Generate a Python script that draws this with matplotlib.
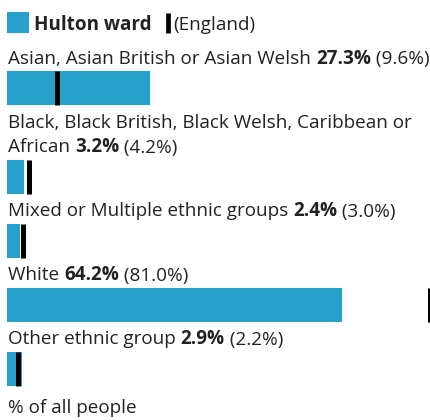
import matplotlib
matplotlib.use("Agg")
import matplotlib.pyplot as plt

plt.rcParams['font.family'] = ['Open Sans', 'DejaVu Sans']

# data
categories = [
    "Asian, Asian British or Asian Welsh",
    "Black, Black British, Black Welsh, Caribbean or\nAfrican",
    "Mixed or Multiple ethnic groups",
    "White",
    "Other ethnic group",
]
ward_values = [27.3, 3.2, 2.4, 64.2, 2.9]
england_values = [9.6, 4.2, 3.0, 81.0, 2.2]
area_name = "Hulton ward"
compare_name = "(England)"
title = "Ethnic group"
footer = "% of all people"

BLUE = "#27a0cc"
TEXT = "#222222"
FS = 13.6

W, H = 430, 420
fig = plt.figure(figsize=(W / 100, H / 100), dpi=100)
fig.patch.set_facecolor("white")

# axes spans from x=7px to the right edge; y in pixels (top = 0)
px_per_pct = 5.22
ax = fig.add_axes([7 / W, 0, (W - 7) / W, 1])
ax.set_xlim(0, (W - 7) / px_per_pct)
ax.set_ylim(H, 0)
ax.axis("off")

renderer = fig.canvas.get_renderer()


def run_text(x, y, parts):
    # draw a row of text pieces one after another, x in data units
    for s, weight in parts:
        t = ax.text(x, y, s, fontsize=FS, fontweight=weight, color=TEXT,
                    va="baseline", ha="left")
        bb = t.get_window_extent(renderer=renderer)
        inv = ax.transData.inverted()
        x = inv.transform((bb.x1, bb.y0))[0]
    return x


# cut-off title at top
fig.text(-2 / W, 1 + 8 / H, title, fontsize=24, fontweight="bold",
         color=TEXT, va="baseline", ha="left")

# legend
ax.add_patch(plt.Rectangle((0, 12), 22 / px_per_pct, 21, color=BLUE, lw=0))
xe = run_text(27 / px_per_pct, 30, [(area_name, "bold")])
ax.vlines(xe + 16 / px_per_pct, 13, 33, color="black", lw=3.4)
run_text(xe + 22 / px_per_pct, 30, [(compare_name, "normal")])

# rows
line_h = 24.5
bar_h = 34
y = 64
for cat, v, e in zip(categories, ward_values, england_values):
    lines = cat.split("\n")
    for ln in lines[:-1]:
        run_text(0.2, y, [(ln, "normal")])
        y += line_h
    run_text(0.2, y, [(lines[-1] + " ", "normal"), (f"{v:.1f}%", "bold"),
                      (f" ({e:.1f}%)", "normal")])
    top = y + 7
    ax.barh(top + bar_h / 2, v, height=bar_h, left=0, color=BLUE, lw=0)
    ax.vlines(e, top, top + bar_h, color="black", lw=3.6, clip_on=False)
    y = top + bar_h + 23

run_text(0.2, 413, [(footer, "normal")])

fig.savefig("out.png", dpi=100, facecolor="white")
